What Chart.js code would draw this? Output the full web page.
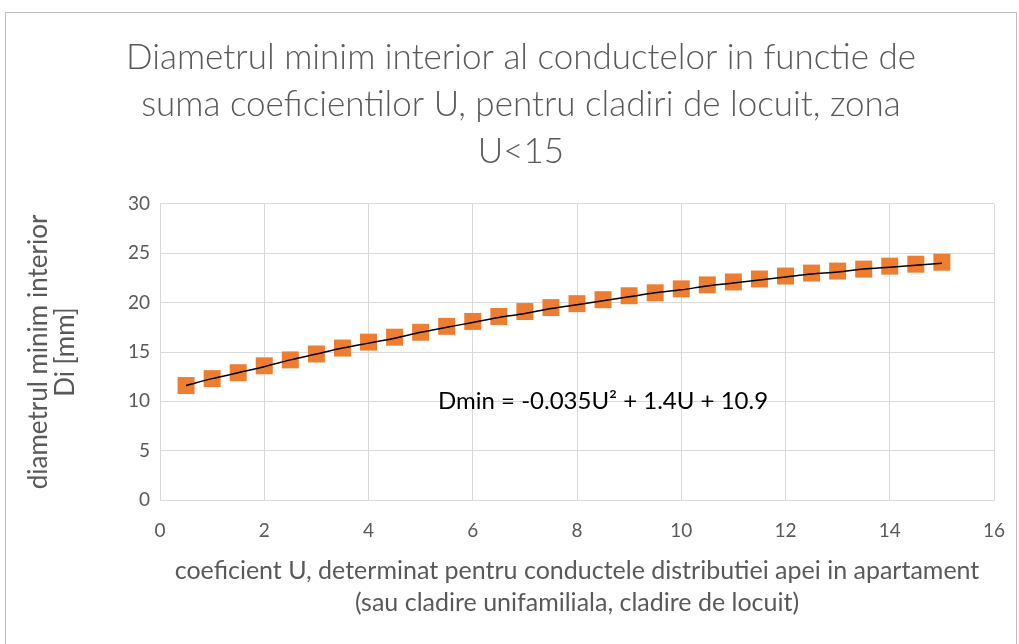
<!DOCTYPE html>
<html>
<head>
<meta charset="utf-8">
<script src="https://cdn.jsdelivr.net/npm/chart.js@4.4.0/dist/chart.umd.min.js"></script>
<style>
  html, body { margin: 0; padding: 0; background: #fff; }
  #wrap { position: relative; width: 1019px; height: 644px; }
  #frame { position: absolute; left: 5px; top: 12px; width: 1012px; height: 640px;
           border: 1px solid #bfbfbf; box-sizing: border-box; pointer-events: none; }
</style>
</head>
<body>
<div id="wrap">
  <canvas id="diamChart" width="1019" height="644"></canvas>
  <div id="frame"></div>
</div>
<script>
// coefficient U (x) and measured minimum diameter Di [mm]
const uValues = [0.5, 1, 1.5, 2, 2.5, 3, 3.5, 4, 4.5, 5, 5.5, 6, 6.5, 7, 7.5,
                 8, 8.5, 9, 9.5, 10, 10.5, 11, 11.5, 12, 12.5, 13, 13.5, 14, 14.5, 15];
const dminValues = [11.6, 12.3, 12.9, 13.6, 14.2, 14.8, 15.4, 16.0, 16.5, 17.0, 17.6, 18.1, 18.6, 19.1, 19.5,
                    19.9, 20.3, 20.7, 21.0, 21.4, 21.8, 22.1, 22.4, 22.7, 23.0, 23.2, 23.4, 23.7, 23.9, 24.1];
// trendline
const trendValues = [11.6, 12.3, 12.9, 13.5, 14.2, 14.8, 15.4, 15.9, 16.4, 17.0, 17.5, 18.0, 18.5, 18.9, 19.4,
                     19.8, 20.2, 20.6, 21.0, 21.3, 21.7, 22.0, 22.3, 22.6, 22.9, 23.1, 23.4, 23.6, 23.8, 24.0];

const titleLines = ["Diametrul minim interior al conductelor in functie de",
                    "suma coeficientilor U, pentru cladiri de locuit, zona",
                    "U<15"];
const xTitle = ["coeficient U, determinat pentru conductele distributiei apei in apartament",
                "(sau cladire unifamiliala, cladire de locuit)"];
const yTitle = ["diametrul minim interior", "Di [mm]"];
const equationText = "Dmin = -0.035U\u00B2 + 1.4U + 10.9";

const fontFamily = "Lato, 'Noto Sans', sans-serif";
const textGrey = '#595959';
const gridGrey = '#d9d9d9';

const equationLabel = {
  id: 'equationLabel',
  afterDatasetsDraw(chart) {
    const { ctx, scales } = chart;
    ctx.save();
    ctx.font = `24px ${fontFamily}`;
    ctx.fillStyle = '#000';
    ctx.textAlign = 'center';
    ctx.textBaseline = 'middle';
    ctx.fillText(equationText, scales.x.getPixelForValue(8.5), scales.y.getPixelForValue(10));
    ctx.restore();
  }
};

const ctx = document.getElementById("diamChart").getContext("2d");
const diamChart = new Chart(ctx, {
  type: 'scatter',
  data: {
    datasets: [{
      label: 'trend',
      type: 'line',
      data: uValues.map((u, i) => ({ x: u, y: trendValues[i] })),
      borderColor: '#000',
      borderWidth: 1.5,
      pointRadius: 0,
      cubicInterpolationMode: 'monotone',
      fill: false,
      order: 0
    }, {
      label: 'Di',
      data: uValues.map((u, i) => ({ x: u, y: dminValues[i] })),
      pointStyle: 'rect',
      pointRadius: 12,
      backgroundColor: '#ed7d31',
      borderColor: '#ed7d31',
      borderWidth: 0,
      order: 1
    }]
  },
  options: {
    responsive: false,
    animation: false,
    layout: { autoPadding: false, padding: { left: 48, right: 25, top: 0, bottom: 0 } },
    plugins: {
      legend: { display: false },
      tooltip: { enabled: false },
      title: {
        display: true,
        text: titleLines,
        color: textGrey,
        font: { family: fontFamily, size: 35, weight: 300, lineHeight: 47 / 35 },
        padding: { top: 34, bottom: 29 }
      }
    },
    scales: {
      x: {
        type: 'linear',
        min: 0,
        max: 16,
        ticks: { stepSize: 2, color: textGrey, font: { family: fontFamily, size: 19 }, padding: 5 },
        grid: { color: gridGrey, drawTicks: true, tickLength: 14, tickColor: 'rgba(0,0,0,0)' },
        border: { color: gridGrey },
        title: {
          display: true,
          text: xTitle,
          color: textGrey,
          font: { family: fontFamily, size: 25, lineHeight: 1.28 },
          padding: { top: 10, bottom: 25 }
        },
        afterFit(scale) { scale.height = 144; }
      },
      y: {
        min: 0,
        max: 30,
        ticks: { stepSize: 5, color: textGrey, font: { family: fontFamily, size: 19 }, padding: 10 },
        grid: { color: gridGrey, drawTicks: false },
        border: { color: gridGrey },
        title: {
          display: true,
          text: yTitle,
          color: textGrey,
          font: { family: fontFamily, size: 26, lineHeight: 1.05 },
          padding: { top: -23, bottom: 0 }
        },
        afterFit(scale) { scale.width = 112; }
      }
    }
  },
  plugins: [equationLabel]
});
</script>
</body>
</html>
